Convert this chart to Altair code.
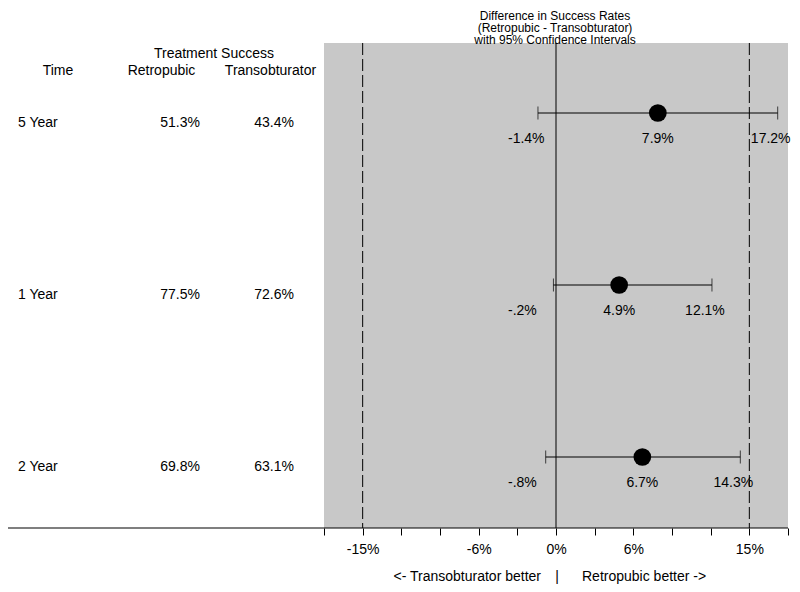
import altair as alt
import pandas as pd

# ---- data ----
times = ["5 Year", "1 Year", "2 Year"]
retropubic = [51.3, 77.5, 69.8]
transobturator = [43.4, 72.6, 63.1]
diff_est = [7.9, 4.9, 6.7]
ci_low = [-1.4, -0.2, -0.8]
ci_high = [17.2, 12.1, 14.3]
x_ticks = list(range(-18, 19, 3))
x_labeled = [-15, -6, 0, 6, 15]
ref_dashed = [-15, 15]
ref_zero = [0]


def stata_pct(v):
    s = f"{v:.1f}"
    if s.startswith("0."):
        s = s[1:]
    elif s.startswith("-0."):
        s = "-" + s[2:]
    return s + "%"


df = pd.DataFrame({
    "time": times,
    "retro": retropubic,
    "trans": transobturator,
    "est": diff_est,
    "lo": ci_low,
    "hi": ci_high,
})
df["retro_lab"] = [f"{v:.1f}%" for v in df["retro"]]
df["trans_lab"] = [f"{v:.1f}%" for v in df["trans"]]
df["est_lab"] = [stata_pct(v) for v in df["est"]]
df["lo_lab"] = [stata_pct(v) for v in df["lo"]]
df["hi_lab"] = [stata_pct(v) for v in df["hi"]]

FONT = "Liberation Sans"
FS = 14

xscale = alt.Scale(domain=[-18, 18], range=[316, 780], nice=False, zero=False)
yscale = alt.Scale(type="point", domain=times, range=[105, 449], padding=0)
lab_arr = "[" + ",".join(str(v) for v in x_labeled) + "]"
xaxis = alt.Axis(
    values=x_ticks,
    labelExpr=f"indexof({lab_arr}, datum.value) >= 0 ? datum.value + '%' : ''",
    domain=False, grid=False, tickSize=7, tickColor="black", tickWidth=1,
    labelFont=FONT, labelFontSize=FS, labelColor="black", labelPadding=7,
    labelFlush=False, labelOverlap=False, title=None,
)
Y = alt.Y("time:N", scale=yscale, axis=None)


def X(field):
    return alt.X(field, type="quantitative", scale=xscale, axis=xaxis)


one = pd.DataFrame({"k": [0]})
base = alt.Chart(df)

bg = alt.Chart(pd.DataFrame({"a": [-18], "b": [18]})).mark_rect(color="#c8c8c8").encode(
    x=X("a"), x2="b:Q", y=alt.value(35), y2=alt.value(520)
)
zero = alt.Chart(pd.DataFrame({"v": ref_zero})).mark_rule(color="black", strokeWidth=1).encode(
    x=X("v"), y=alt.value(35), y2=alt.value(520)
)
dashed = alt.Chart(pd.DataFrame({"v": ref_dashed})).mark_rule(
    color="black", strokeWidth=1, strokeDash=[12, 4]
).encode(x=X("v"), y=alt.value(35), y2=alt.value(520))
baseline = alt.Chart(one).mark_rule(color="black", strokeWidth=1.2).encode(
    x=alt.value(-4), x2=alt.value(780), y=alt.value(520)
)

ci = base.mark_rule(color="black", strokeWidth=1).encode(x=X("lo"), x2="hi:Q", y=Y)
caps = base.transform_fold(["lo", "hi"], as_=["end", "val"]).mark_tick(
    color="black", thickness=1, size=13
).encode(x=X("val"), y=Y)
dots = base.mark_circle(color="black", size=314, opacity=1).encode(x=X("est"), y=Y)

txt = dict(font=FONT, fontSize=FS, color="black", baseline="middle")
lo_lab = base.mark_text(align="left", dy=26, **txt).encode(x=alt.value(500), y=Y, text="lo_lab:N")
est_lab = base.mark_text(align="center", dy=26, **txt).encode(x=X("est"), y=Y, text="est_lab:N")
hi_lab = base.mark_text(align="center", dy=26, dx=-7, **txt).encode(x=X("hi"), y=Y, text="hi_lab:N")

col_time = base.mark_text(align="left", dy=10, **txt).encode(x=alt.value(10), y=Y, text="time:N")
col_retro = base.mark_text(align="right", dy=10, **txt).encode(x=alt.value(192), y=Y, text="retro_lab:N")
col_trans = base.mark_text(align="right", dy=10, **txt).encode(x=alt.value(286), y=Y, text="trans_lab:N")


def label(text, x, y, align="center", size=FS):
    t = dict(txt)
    t["fontSize"] = size
    return alt.Chart(one).mark_text(align=align, **t).encode(
        x=alt.value(x), y=alt.value(y), text=alt.value(text)
    )


headers = [
    label("Treatment Success", 206, 46),
    label("Time", 50, 62.5),
    label("Retropubic", 153.5, 62.5),
    label("Transobturator", 262.5, 62.5),
    label("Difference in Success Rates", 547, 7.5, size=12),
    label("(Retropubic - Transobturator)", 547, 19.5, size=12),
    label("with 95% Confidence Intervals", 547, 31.5, size=12),
    label("<- Transobturator better", 533, 569, "right"),
    label("|", 549, 569),
    label("Retropubic better ->", 574, 569, "left"),
]

chart = alt.layer(
    bg, zero, dashed, baseline, ci, caps, dots, lo_lab, est_lab, hi_lab,
    col_time, col_retro, col_trans, *headers
).properties(
    width=780, height=520,
    padding={"left": 0, "top": 0, "right": 4, "bottom": 56},
    autosize=alt.AutoSizeParams(type="none"),
).configure_view(stroke=None)

chart.save("out.html", embed_options={"renderer": "svg", "actions": False})
